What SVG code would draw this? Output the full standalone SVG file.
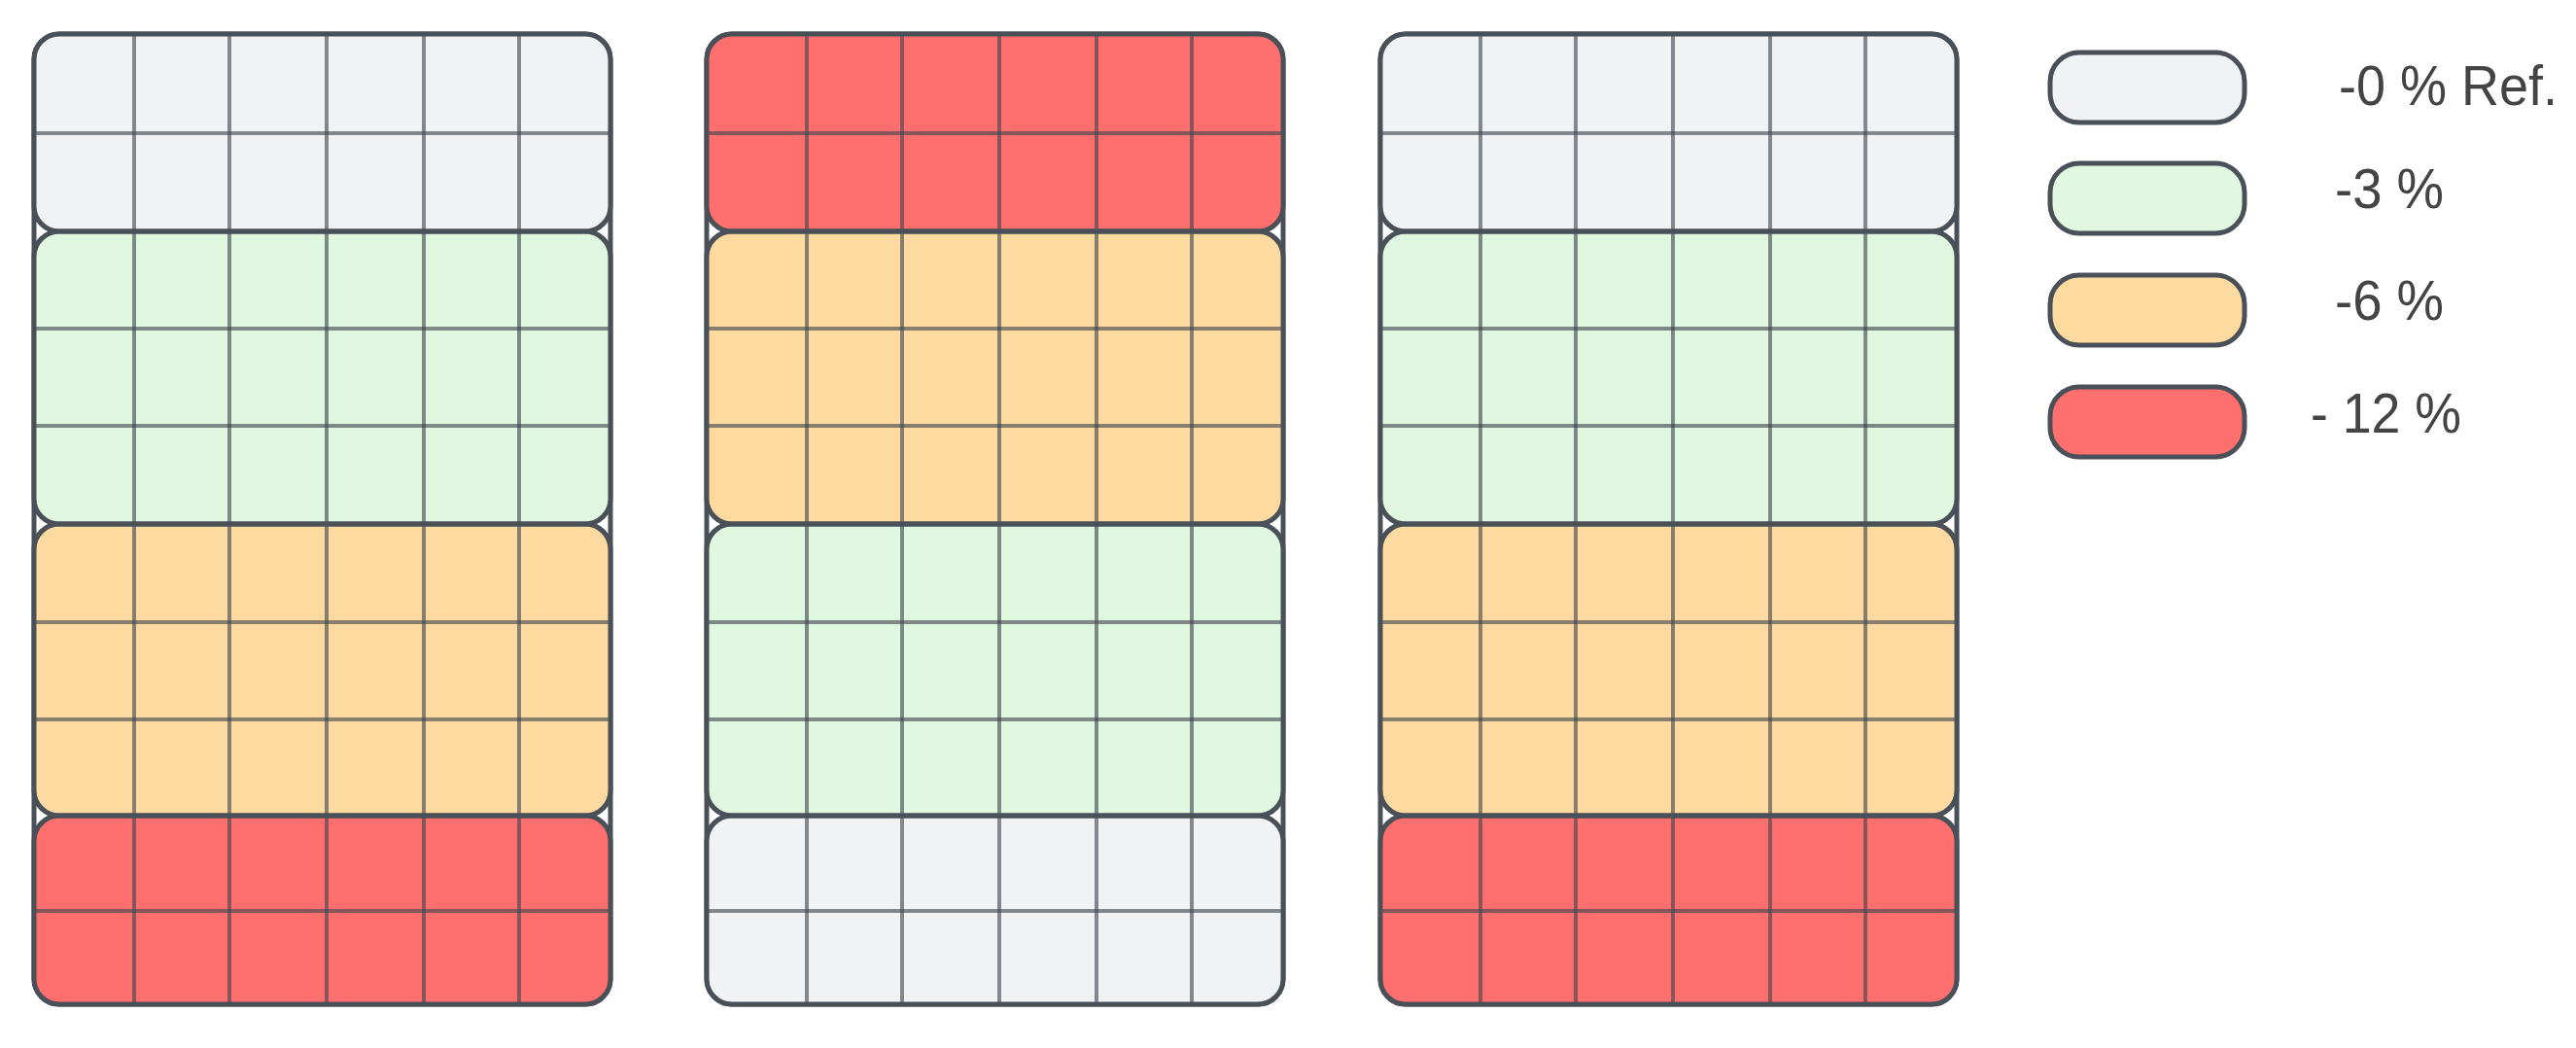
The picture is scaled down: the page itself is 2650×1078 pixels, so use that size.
<svg xmlns="http://www.w3.org/2000/svg" xmlns:xlink="http://www.w3.org/1999/xlink" width="2650" height="1078" viewBox="0 0 2650 1078">
<style>
.frame{fill:#ffffff;stroke:#4a5058;stroke-width:5}
.band{stroke:#4a5058;stroke-width:5}
.gray{fill:#f1f2f4}
.green{fill:#e0f8e0}
.orange{fill:#fddba0}
.red{fill:#fe6f6d}
.grid line{stroke:#3f464f;stroke-width:4;stroke-opacity:0.62}
.lbl{font-family:"Liberation Sans",Arial,sans-serif;font-size:58px;fill:#444444}
.key{stroke:#4a5058;stroke-width:5}
</style>
<defs>
<g id="gridlines" class="grid">
<line x1="103" y1="0" x2="103" y2="998"/>
<line x1="201" y1="0" x2="201" y2="998"/>
<line x1="301" y1="0" x2="301" y2="998"/>
<line x1="401" y1="0" x2="401" y2="998"/>
<line x1="499" y1="0" x2="499" y2="998"/>
<line x1="0" y1="102" x2="593" y2="102"/>
<line x1="0" y1="303" x2="593" y2="303"/>
<line x1="0" y1="403" x2="593" y2="403"/>
<line x1="0" y1="605" x2="593" y2="605"/>
<line x1="0" y1="705" x2="593" y2="705"/>
<line x1="0" y1="902" x2="593" y2="902"/>
</g>
</defs>

<g id="panel1" transform="translate(35,35)">
<rect class="frame" x="0" y="0" width="593" height="998" rx="26"/>
<rect class="gray" x="0" y="0" width="593" height="203" rx="26"/>
<rect class="green" x="0" y="203" width="593" height="301" rx="26"/>
<rect class="orange" x="0" y="504" width="593" height="300" rx="26"/>
<rect class="red" x="0" y="804" width="593" height="194" rx="26"/>
<use xlink:href="#gridlines" href="#gridlines"/>
<g fill="none" class="band">
<rect x="0" y="0" width="593" height="203" rx="26"/>
<rect x="0" y="203" width="593" height="301" rx="26"/>
<rect x="0" y="504" width="593" height="300" rx="26"/>
<rect x="0" y="804" width="593" height="194" rx="26"/>
</g>
</g>

<g id="panel2" transform="translate(727,35)">
<rect class="frame" x="0" y="0" width="593" height="998" rx="26"/>
<rect class="red" x="0" y="0" width="593" height="203" rx="26"/>
<rect class="orange" x="0" y="203" width="593" height="301" rx="26"/>
<rect class="green" x="0" y="504" width="593" height="300" rx="26"/>
<rect class="gray" x="0" y="804" width="593" height="194" rx="26"/>
<use xlink:href="#gridlines" href="#gridlines"/>
<g fill="none" class="band">
<rect x="0" y="0" width="593" height="203" rx="26"/>
<rect x="0" y="203" width="593" height="301" rx="26"/>
<rect x="0" y="504" width="593" height="300" rx="26"/>
<rect x="0" y="804" width="593" height="194" rx="26"/>
</g>
</g>

<g id="panel3" transform="translate(1420,35)">
<rect class="frame" x="0" y="0" width="593" height="998" rx="26"/>
<rect class="gray" x="0" y="0" width="593" height="203" rx="26"/>
<rect class="green" x="0" y="203" width="593" height="301" rx="26"/>
<rect class="orange" x="0" y="504" width="593" height="300" rx="26"/>
<rect class="red" x="0" y="804" width="593" height="194" rx="26"/>
<use xlink:href="#gridlines" href="#gridlines"/>
<g fill="none" class="band">
<rect x="0" y="0" width="593" height="203" rx="26"/>
<rect x="0" y="203" width="593" height="301" rx="26"/>
<rect x="0" y="504" width="593" height="300" rx="26"/>
<rect x="0" y="804" width="593" height="194" rx="26"/>
</g>
</g>

<g id="legend">
<g id="key-0">
<rect class="key gray" x="2109" y="54" width="200" height="72" rx="30"/>
<text class="lbl" x="2406" y="108" textLength="225" lengthAdjust="spacingAndGlyphs">-0 % Ref.</text>
</g>
<g id="key-3">
<rect class="key green" x="2109" y="168" width="200" height="72" rx="30"/>
<text class="lbl" x="2402" y="214" textLength="112" lengthAdjust="spacingAndGlyphs">-3 %</text>
</g>
<g id="key-6">
<rect class="key orange" x="2109" y="283" width="200" height="72" rx="30"/>
<text class="lbl" x="2402" y="329" textLength="112" lengthAdjust="spacingAndGlyphs">-6 %</text>
</g>
<g id="key-12">
<rect class="key red" x="2109" y="398" width="200" height="72" rx="30"/>
<text class="lbl" x="2377" y="445" textLength="155" lengthAdjust="spacingAndGlyphs">- 12 %</text>
</g>
</g>
<g id="connectors"/>
</svg>
